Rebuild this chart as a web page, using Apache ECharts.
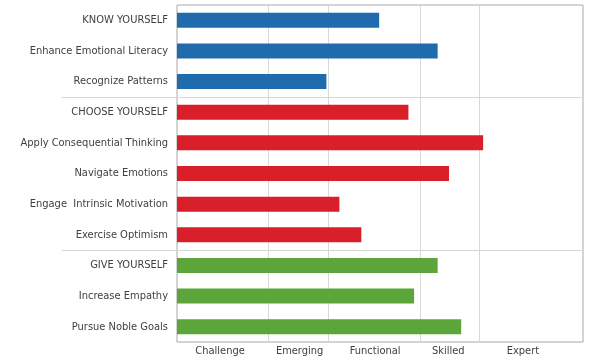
<!DOCTYPE html>
<html><head><meta charset="utf-8">
<script src="https://cdn.jsdelivr.net/npm/echarts@6/dist/echarts.min.js"></script>
<style>html,body{margin:0;padding:0;background:#fff}#c{width:593px;height:358px}</style>
</head><body><div id="c"></div>
<script>
const categories = ["KNOW YOURSELF","Enhance Emotional Literacy","Recognize Patterns","CHOOSE YOURSELF","Apply Consequential Thinking","Navigate Emotions","Engage  Intrinsic Motivation","Exercise Optimism","GIVE YOURSELF","Increase Empathy","Pursue Noble Goals"];
const values = [2.49,3.21,1.84,2.85,3.77,3.35,2.0,2.27,3.21,2.92,3.50];
const groups = [0,0,0,1,1,1,1,1,2,2,2];
const groupColors = ["#1f6bae","#d81f2a","#5ba53b"];
const levelNames = ["Challenge","Emerging","Functional","Skilled","Expert"];
const levelPositions = [0.53,1.51,2.44,3.34,4.26];
const gridPositions = [1.12,1.86,2.99,3.72];
const separatorIndices = [3,8];

const font = "'DejaVu Sans Condensed','DejaVu Sans',sans-serif";
const chart = echarts.init(document.getElementById('c'));
chart.setOption({
  animation:false,
  grid:{left:177,right:10,top:5,bottom:16,show:true,borderColor:'#a9a9a9',borderWidth:1,containLabel:false},
  xAxis:{type:'value',min:0,max:5,
    axisLine:{show:false},axisTick:{show:false},splitLine:{show:false},
    axisLabel:{customValues:levelPositions,formatter:(v)=>{const i=levelPositions.indexOf(v);return i>=0?levelNames[i]:'';},
      color:'#404040',fontFamily:font,fontSize:11,margin:4}},
  yAxis:{type:'category',inverse:true,data:categories,
    axisLine:{show:false},axisTick:{show:false},splitLine:{show:false},
    axisLabel:{color:'#404040',fontFamily:font,fontSize:11,margin:9}},
  series:[
    {type:'custom',z:1,silent:true,clip:false,
      data:separatorIndices.map(i=>[0,i]),
      renderItem:(params,api)=>{
        const idx=api.value(1);
        const band=api.size([0,1])[1];
        const p0=api.coord([0,idx]);
        const p1=api.coord([5,idx]);
        const y=Math.round(p0[1]-band/2)+0.5;
        return {type:'line',shape:{x1:p0[0]-115,y1:y,x2:p1[0],y2:y},style:{stroke:'#d6d6d6',lineWidth:1}};
      }
    },
    {type:'custom',z:1,silent:true,clip:false,
      data:gridPositions.map(x=>[x,0]),
      renderItem:(params,api)=>{
        const cs=params.coordSys;
        const x=Math.round(api.coord([api.value(0),0])[0])+0.5;
        return {type:'line',shape:{x1:x,y1:cs.y,x2:x,y2:cs.y+cs.height},style:{stroke:'#d8d8d8',lineWidth:1}};
      }
    },
    {type:'bar',barWidth:15,z:3,
      data:values.map((v,i)=>({value:v,itemStyle:{color:groupColors[groups[i]]}}))}
  ]
});
</script></body></html>
